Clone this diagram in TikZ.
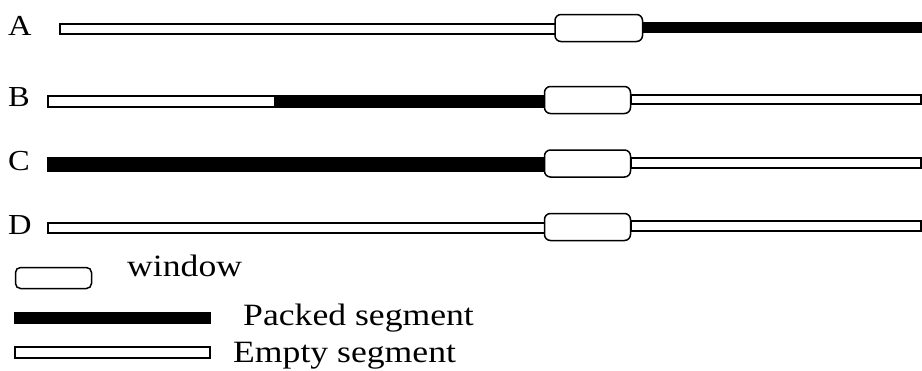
\documentclass[tikz,border=0pt]{standalone}
\usepackage{fontspec}
\setmainfont{Liberation Serif}
\begin{document}
\begin{tikzpicture}[x=1pt,y=-1pt,
  emptybar/.style={draw=black,fill=white,line width=1.4pt},
  packedbar/.style={draw=black,fill=black,line width=1.4pt},
  winbox/.style={draw=black,fill=white,line width=1.5pt,rounded corners=6pt,inner sep=0pt,minimum height=27pt},
  rowlabel/.style={font=\fontsize{29}{32}\selectfont,inner sep=0pt,anchor=base west},
  legtext/.style={font=\fontsize{31}{34}\selectfont,inner sep=0pt,anchor=base west}]
\useasboundingbox (0,0) rectangle (922,370);
% Row A
\node[rowlabel] (la) at (8,35) {\scalebox{1.12}[1]{A}};
\draw[emptybar] (60,24) rectangle (556,34);
\draw[packedbar] (643,22.5) rectangle (922,32.5);
\node[winbox,minimum width=87.5pt] (wa) at (598.75,28) {};
% Row B
\node[rowlabel] (lb) at (8,106) {\scalebox{1.12}[1]{B}};
\draw[emptybar] (48,96) rectangle (275,107);
\draw[packedbar] (275,96) rectangle (545,107);
\draw[emptybar] (631,95) rectangle (921,104);
\node[winbox,minimum width=86pt] (wb) at (587.5,100) {};
% Row C
\node[rowlabel] (lc) at (8,170) {\scalebox{1.12}[1]{C}};
\draw[packedbar] (48,158) rectangle (545,171);
\draw[emptybar] (631,158) rectangle (921,168);
\node[winbox,minimum width=86pt] (wc) at (587.5,163.5) {};
% Row D
\node[rowlabel] (ld) at (8,234) {\scalebox{1.12}[1]{D}};
\draw[emptybar] (48,223) rectangle (545,233);
\draw[emptybar] (631,221) rectangle (921,231);
\node[winbox,minimum width=86pt] (wd) at (587.5,227) {};
% Legend
\node[winbox,minimum width=76pt,minimum height=21pt,rounded corners=5pt] (lw) at (53.5,278) {};
\node[legtext] (t1) at (127,276) {\scalebox{1.15}[1]{window}};
\draw[packedbar] (15,313) rectangle (210,323);
\node[legtext] (t2) at (243,325) {\scalebox{1.15}[1]{Packed segment}};
\draw[emptybar] (15,347) rectangle (210,358);
\node[legtext] (t3) at (233,362) {\scalebox{1.15}[1]{Empty segment}};
\end{tikzpicture}
\end{document}
